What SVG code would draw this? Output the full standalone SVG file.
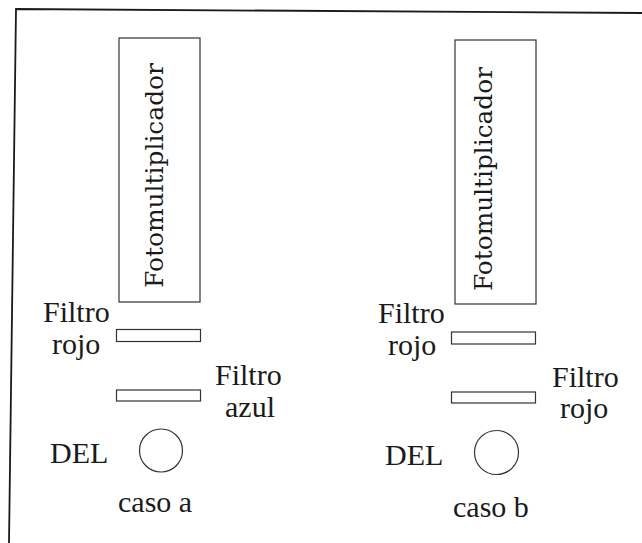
<svg xmlns="http://www.w3.org/2000/svg" width="642" height="543" viewBox="0 0 642 543">
  <rect width="642" height="543" fill="#ffffff"/>

  <!-- outer border -->
  <g id="frame" fill="none" stroke="#1a1a1a" stroke-width="1.8">
    <polyline points="9,543 16,9 642,13"/>
  </g>

  <!-- white shapes with thin dark outline; serif labels -->
  <g stroke="#333333" stroke-width="1.2">
    <!-- case a -->
    <g id="pmt-a">
      <rect fill="#ffffff" x="119" y="38" width="81" height="264"/>
      <text stroke="none" style="font-family: 'DejaVu Serif', serif !important; font-size: 24.5px;" fill="#1a1a1a" text-anchor="middle" transform="translate(163,175.5) rotate(-90)" textLength="225" lengthAdjust="spacingAndGlyphs">Fotomultiplicador</text>
    </g>
    <g id="filter-a1">
      <rect fill="#ffffff" x="116.5" y="329.5" width="84" height="12"/>
      <text stroke="none" style="font-family: 'Liberation Serif', serif !important; font-size: 30px;" fill="#1a1a1a" x="43" y="322">Filtro</text>
      <text stroke="none" style="font-family: 'Liberation Serif', serif !important; font-size: 30px;" fill="#1a1a1a" x="52" y="354">rojo</text>
    </g>
    <g id="filter-a2">
      <rect fill="#ffffff" x="116.5" y="390" width="84" height="11"/>
      <text stroke="none" style="font-family: 'Liberation Serif', serif !important; font-size: 30px;" fill="#1a1a1a" x="215" y="385">Filtro</text>
      <text stroke="none" style="font-family: 'Liberation Serif', serif !important; font-size: 30px;" fill="#1a1a1a" x="225" y="417">azul</text>
    </g>
    <g id="led-a">
      <circle fill="#ffffff" cx="161" cy="450.5" r="21.5"/>
      <text stroke="none" style="font-family: 'Liberation Serif', serif !important; font-size: 30px;" fill="#1a1a1a" x="50" y="463">DEL</text>
    </g>
    <g id="caption-a">
      <text stroke="none" style="font-family: 'Liberation Serif', serif !important; font-size: 30px;" fill="#1a1a1a" x="118" y="512">caso a</text>
    </g>

    <!-- case b -->
    <g id="pmt-b">
      <rect fill="#ffffff" x="455" y="40" width="81" height="264"/>
      <text stroke="none" style="font-family: 'DejaVu Serif', serif !important; font-size: 24.5px;" fill="#1a1a1a" text-anchor="middle" transform="translate(492,179) rotate(-90)" textLength="224" lengthAdjust="spacingAndGlyphs">Fotomultiplicador</text>
    </g>
    <g id="filter-b1">
      <rect fill="#ffffff" x="451.5" y="332" width="84" height="12"/>
      <text stroke="none" style="font-family: 'Liberation Serif', serif !important; font-size: 30px;" fill="#1a1a1a" x="378" y="323">Filtro</text>
      <text stroke="none" style="font-family: 'Liberation Serif', serif !important; font-size: 30px;" fill="#1a1a1a" x="388" y="355">rojo</text>
    </g>
    <g id="filter-b2">
      <rect fill="#ffffff" x="451.5" y="392" width="84" height="11"/>
      <text stroke="none" style="font-family: 'Liberation Serif', serif !important; font-size: 30px;" fill="#1a1a1a" x="552" y="387">Filtro</text>
      <text stroke="none" style="font-family: 'Liberation Serif', serif !important; font-size: 30px;" fill="#1a1a1a" x="560" y="418">rojo</text>
    </g>
    <g id="led-b">
      <circle fill="#ffffff" cx="496.5" cy="452.5" r="22"/>
      <text stroke="none" style="font-family: 'Liberation Serif', serif !important; font-size: 30px;" fill="#1a1a1a" x="385" y="465">DEL</text>
    </g>
    <g id="caption-b">
      <text stroke="none" style="font-family: 'Liberation Serif', serif !important; font-size: 30px;" fill="#1a1a1a" x="453" y="517">caso b</text>
    </g>
  </g>

  <g id="connectors"/>
</svg>
